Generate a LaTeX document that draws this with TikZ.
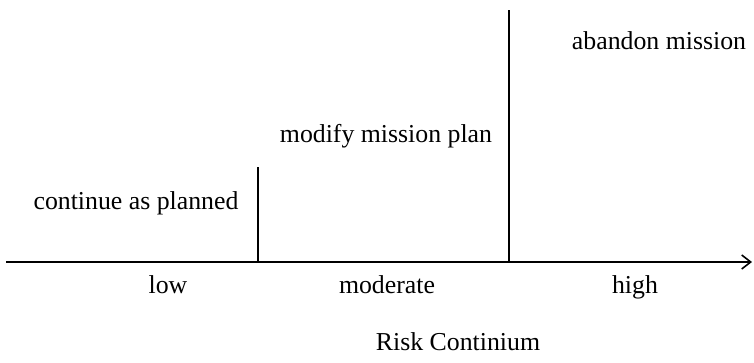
\documentclass[tikz,border=0pt]{standalone}
\usepackage{fontspec}
\setmainfont{Liberation Serif}
\usetikzlibrary{arrows.meta}
\begin{document}
\begin{tikzpicture}[x=1pt,y=1pt,
  rule/.style={line width=1.6pt},
  lbl/.style={anchor=base,inner sep=0pt,font=\fontsize{25.8}{30}\selectfont}]
\useasboundingbox (0,0) rectangle (754,362);
% risk axis
\coordinate (a0) at (6,100);
\coordinate (a1) at (752,100);
\draw[rule,-{Straight Barb[length=9pt,width=14pt,line width=1.6pt]}] (a0) -- (a1);
% thresholds
\coordinate (t1b) at (258,100);
\coordinate (t1t) at (258,195);
\coordinate (t2b) at (509,100);
\coordinate (t2t) at (509,352);
\draw[rule] (t1b) -- (t1t);
\draw[rule] (t2b) -- (t2t);
% actions
\node[lbl] (cont) at (136,153) {continue as planned};
\node[lbl] (mod) at (386,219) {modify mission plan};
\node[lbl] (aband) at (659,312) {abandon mission};
% levels
\node[lbl] (low) at (168,69) {low};
\node[lbl] (modr) at (387,69) {moderate};
\node[lbl] (high) at (635,69) {high};
\node[lbl] (title) at (458,12) {Risk Continium};
\end{tikzpicture}
\end{document}
